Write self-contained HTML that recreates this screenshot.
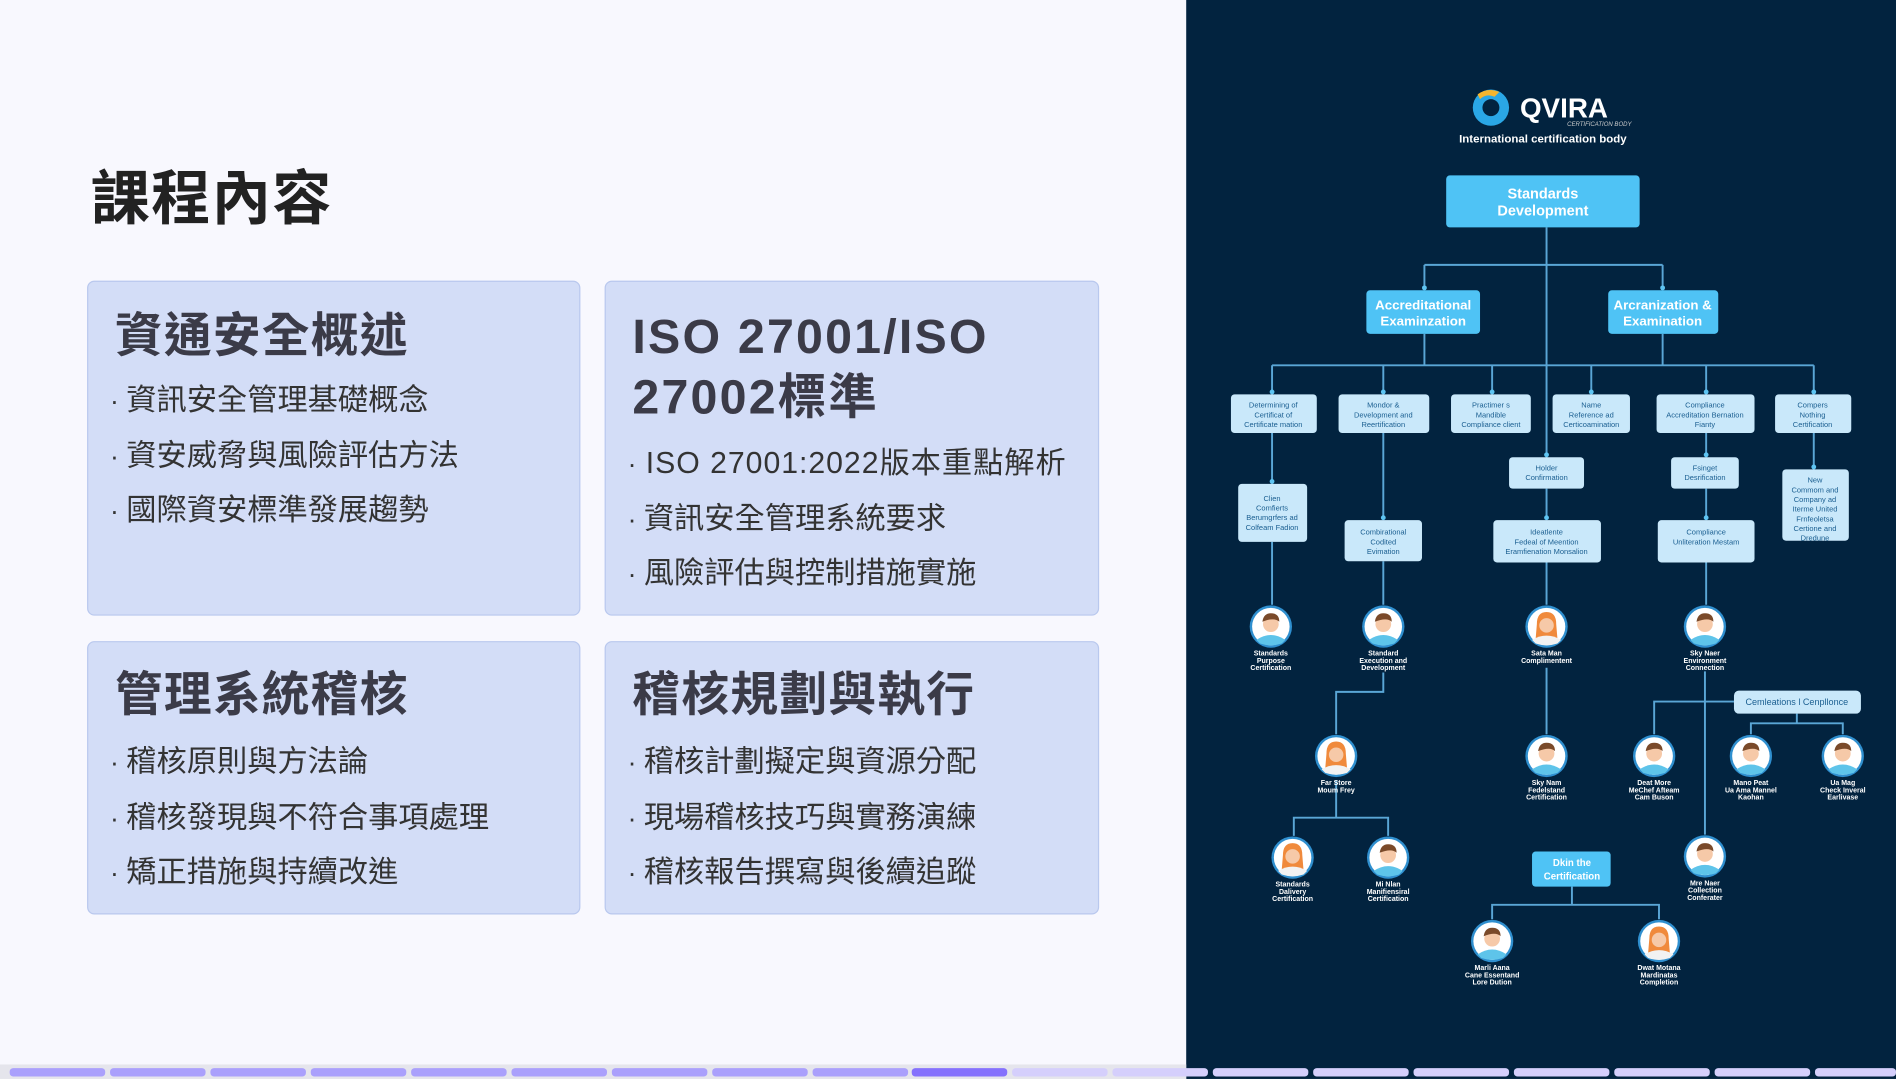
<!DOCTYPE html>
<html><head><meta charset="utf-8"><style>
html,body{margin:0;padding:0;width:1896px;height:1079px;overflow:hidden;background:#f8f8fe}
#w{position:absolute;left:0;top:0;width:1568px;height:892px;transform:scale(1.20918,1.2096);transform-origin:0 0;font-family:"Liberation Sans","Noto Sans CJK TC",sans-serif}
.left{position:absolute;left:0;top:0;width:981px;height:892px;background:#f8f8fe}
.right{position:absolute;left:981px;top:0;width:587px;height:892px;background:#02233f}
h1{position:absolute;left:75px;top:137px;margin:0;font-size:49px;font-weight:700;color:#222;line-height:56px;letter-spacing:1px}
.card{position:absolute;background:#d3ddf7;border:1px solid #b9c8ee;border-radius:6px;box-sizing:border-box}
.card h2{margin:0;position:absolute;left:22px;font-size:39.5px;font-weight:700;color:#3b3b48;line-height:50px;letter-spacing:1px}
.card ul{list-style:none;margin:0;padding:0;position:absolute;left:18px}
.card li{font-size:25px;color:#333;line-height:44.5px;white-space:nowrap}
.card li:before{content:"· ";font-size:22px}
.bar{position:absolute;left:0;top:880px;width:981px;height:12px;background:#e5e5ec}
.seg{position:absolute;top:883px;height:7px;width:79px;border-radius:3px}
</style></head><body><div id="w">
<div class="left"></div><div class="right"></div>
<h1>課程內容</h1>
<div class="card" style="left:72px;top:232px;width:408px;height:277px">
<h2 style="top:20px">資通安全概述</h2>
<ul style="top:76px"><li>資訊安全管理基礎概念</li><li>資安威脅與風險評估方法</li><li>國際資安標準發展趨勢</li></ul></div>
<div class="card" style="left:500px;top:232px;width:409px;height:277px">
<h2 style="top:21px;font-size:40px;line-height:50px;letter-spacing:1.8px">ISO 27001/ISO<br>27002標準</h2>
<ul style="top:128px"><li style="letter-spacing:0.8px">ISO 27001:2022版本重點解析</li><li>資訊安全管理系統要求</li><li>風險評估與控制措施實施</li></ul></div>
<div class="card" style="left:72px;top:530px;width:408px;height:226px">
<h2 style="top:19px">管理系統稽核</h2>
<ul style="top:77px"><li>稽核原則與方法論</li><li>稽核發現與不符合事項處理</li><li>矯正措施與持續改進</li></ul></div>
<div class="card" style="left:500px;top:530px;width:409px;height:226px">
<h2 style="top:19px">稽核規劃與執行</h2>
<ul style="top:77px"><li>稽核計劃擬定與資源分配</li><li>現場稽核技巧與實務演練</li><li>稽核報告撰寫與後續追蹤</li></ul></div>
<div class="bar"></div>
<svg style="position:absolute;left:981px;top:0" width="587" height="880" viewBox="981 0 587 880" font-family="Liberation Sans, sans-serif">
<defs>
<g id="av"><circle r="17.5" fill="#2f8fcf"/><circle r="15.5" fill="#fff"/><path d="M-12,11 Q0,3 12,11 L9,14 Q0,17 -9,14Z" fill="#5ec4ea"/><circle cy="-2" r="6.5" fill="#f6c9a8"/><path d="M-7,-4 Q-6,-11 0,-11 Q7,-11 7,-4 Q3,-8 -7,-4Z" fill="#7a4a2a"/></g>
<g id="avf"><circle r="17.5" fill="#2f8fcf"/><circle r="15.5" fill="#fff"/><path d="M-8,-2 Q-8,-12 0,-12 Q8,-12 8,-2 L9,10 L-9,10Z" fill="#f08a3c"/><path d="M-12,11 Q0,4 12,11 L9,14 Q0,17 -9,14Z" fill="#f2f2f2"/><circle cy="-1" r="6" fill="#f6c9a8"/></g>
</defs>
<circle cx="1233" cy="89" r="15" fill="#2aa7e6"/><circle cx="1233" cy="89" r="7" fill="#02233f"/><path d="M1222,78 Q1230,72 1240,76 L1236,80 Q1229,77 1224,82Z" fill="#f5b52e"/>
<text x="1257" y="97" font-size="23" font-weight="700" fill="#fff">QVIRA</text>
<text x="1296" y="104" font-size="5" fill="#ccc" font-style="italic">CERTIFICATION BODY</text>
<text x="1276" y="118" font-size="9.5" font-weight="700" fill="#fff" text-anchor="middle">International certification body</text>
<g stroke="#5aa6d6" stroke-width="1.6" fill="none">
<path d="M1279,188 V390 M1178,219 H1375 M1178,219 V240 M1375,219 V240 M1178,276 V302 M1375,276 V302 M1052,302 H1500 M1052,302 V326 M1144,302 V326 M1234,302 V326 M1316,302 V326 M1411,302 V326 M1500,302 V326"/>
<path d="M1052,358 V400 M1144,358 V430 M1279,404 V430 M1411,358 V378 M1411,404 V430 M1500,358 V388"/>
<path d="M1052,448 V500 M1144,464 V500 M1279,465 V500 M1411,465 V500"/>
<path d="M1144,556 V572 H1105 V607 M1279,552 V607 M1410,555 V690 M1434,580 H1368 V607 M1486,590 V598 H1448 V607 M1486,598 H1524 V607"/>
<path d="M1105,645 V676 H1070 V691 M1105,676 H1148 V691 M1300,733 V748 H1234 V760 M1300,748 H1372 V760"/>
</g>
<g fill="#5ec4f2">
<circle cx="1178" cy="238" r="2"/><circle cx="1375" cy="238" r="2"/><circle cx="1052" cy="324" r="2"/><circle cx="1144" cy="324" r="2"/><circle cx="1234" cy="324" r="2"/><circle cx="1316" cy="324" r="2"/><circle cx="1411" cy="324" r="2"/><circle cx="1500" cy="324" r="2"/>
<circle cx="1279" cy="376" r="2"/><circle cx="1052" cy="398" r="2"/><circle cx="1144" cy="428" r="2"/><circle cx="1279" cy="428" r="2"/><circle cx="1411" cy="376" r="2"/><circle cx="1411" cy="428" r="2"/><circle cx="1500" cy="386" r="2"/>
</g>
<g fill="#4fc3f5"><rect x="1196" y="145" width="160" height="43" rx="3"/><rect x="1130" y="240" width="94" height="36" rx="3"/><rect x="1330" y="240" width="91" height="36" rx="3"/><rect x="1267" y="704" width="65" height="29" rx="3"/></g>
<g fill="#fff" font-weight="700" text-anchor="middle">
<text x="1276" y="164" font-size="12">Standards</text><text x="1276" y="178" font-size="12">Development</text>
<text x="1177" y="256" font-size="11">Accreditational</text><text x="1177" y="269" font-size="11">Examinzation</text>
<text x="1375" y="256" font-size="11">Arcranization &amp;</text><text x="1375" y="269" font-size="11">Examination</text>
<text x="1300" y="716" font-size="8">Dkin the</text><text x="1300" y="727" font-size="8">Certification</text>
</g>
<g fill="#c9e8fa"><rect x="1018" y="326" width="71" height="32" rx="3"/><rect x="1107" y="326" width="75" height="32" rx="3"/><rect x="1200" y="326" width="66" height="32" rx="3"/><rect x="1284" y="326" width="64" height="32" rx="3"/><rect x="1370" y="326" width="81" height="32" rx="3"/><rect x="1468" y="326" width="63" height="32" rx="3"/>
<rect x="1024" y="400" width="57" height="48" rx="3"/><rect x="1112" y="430" width="64" height="34" rx="3"/><rect x="1248" y="378" width="62" height="26" rx="3"/><rect x="1235" y="430" width="89" height="35" rx="3"/><rect x="1382" y="378" width="56" height="26" rx="3"/><rect x="1371" y="430" width="80" height="35" rx="3"/><rect x="1474" y="388" width="55" height="59" rx="3"/><rect x="1434" y="571" width="105" height="19" rx="4"/></g>
<g fill="#1b5f91" font-size="6.2" text-anchor="middle">
<text x="1053" y="337">Determining of</text><text x="1053" y="345">Certificat of</text><text x="1053" y="353">Certificate mation</text>
<text x="1144" y="337">Mondor &amp;</text><text x="1144" y="345">Development and</text><text x="1144" y="353">Reertification</text>
<text x="1233" y="337">Practimer s</text><text x="1233" y="345">Mandible</text><text x="1233" y="353">Compliance client</text>
<text x="1316" y="337">Name</text><text x="1316" y="345">Reference ad</text><text x="1316" y="353">Certicoamination</text>
<text x="1410" y="337">Compliance</text><text x="1410" y="345">Accreditation Bernation</text><text x="1410" y="353">Fianty</text>
<text x="1499" y="337">Compers</text><text x="1499" y="345">Nothing</text><text x="1499" y="353">Certification</text>
<text x="1052" y="414">Clien</text><text x="1052" y="422">Comfierts</text><text x="1052" y="430">Berumgrfers ad</text><text x="1052" y="438">Colfeam Fadion</text>
<text x="1144" y="442">Combirational</text><text x="1144" y="450">Codited</text><text x="1144" y="458">Evimation</text>
<text x="1279" y="389">Holder</text><text x="1279" y="397">Confirmation</text>
<text x="1279" y="442">Ideatlente</text><text x="1279" y="450">Fedeal of Meention</text><text x="1279" y="458">Eramfienation Monsalion</text>
<text x="1410" y="389">Fsinget</text><text x="1410" y="397">Desrification</text>
<text x="1411" y="442">Compliance</text><text x="1411" y="450">Unliteration Mestam</text>
<text x="1501" y="399">New</text><text x="1501" y="407">Commom and</text><text x="1501" y="415">Company ad</text><text x="1501" y="423">Iterme United</text><text x="1501" y="431">Frnfeoletsa</text><text x="1501" y="439">Certione and</text><text x="1501" y="447">Dredune</text>
<text x="1486" y="583" font-size="7.5">Cemleations l Cenpllonce</text>
</g>
<use href="#av" x="1051" y="518"/><use href="#av" x="1144" y="518"/><use href="#avf" x="1279" y="518"/><use href="#av" x="1410" y="518"/>
<use href="#avf" x="1105" y="625"/><use href="#av" x="1279" y="625"/><use href="#av" x="1368" y="625"/><use href="#av" x="1448" y="625"/><use href="#av" x="1524" y="625"/>
<use href="#avf" x="1069" y="709"/><use href="#av" x="1148" y="709"/><use href="#av" x="1410" y="708"/>
<use href="#av" x="1234" y="778"/><use href="#avf" x="1372" y="778"/>
<g fill="#fff" font-size="5.8" font-weight="700" text-anchor="middle">
<text x="1051" y="542">Standards</text><text x="1051" y="548">Purpose</text><text x="1051" y="554">Certification</text>
<text x="1144" y="542">Standard</text><text x="1144" y="548">Execution and</text><text x="1144" y="554">Development</text>
<text x="1279" y="542">Sata Man</text><text x="1279" y="548">Complimentent</text>
<text x="1410" y="542">Sky Naer</text><text x="1410" y="548">Environment</text><text x="1410" y="554">Connection</text>
<text x="1105" y="649">Far Store</text><text x="1105" y="655">Moum Frey</text>
<text x="1279" y="649">Sky Nam</text><text x="1279" y="655">Fedelstand</text><text x="1279" y="661">Certification</text>
<text x="1368" y="649">Deat More</text><text x="1368" y="655">MeChef Afteam</text><text x="1368" y="661">Cam Buson</text>
<text x="1448" y="649">Mano Peat</text><text x="1448" y="655">Ua Ama Mannel</text><text x="1448" y="661">Kaohan</text>
<text x="1524" y="649">Ua Mag</text><text x="1524" y="655">Check Inveral</text><text x="1524" y="661">Earlivase</text>
<text x="1069" y="733">Standards</text><text x="1069" y="739">Dalivery</text><text x="1069" y="745">Certification</text>
<text x="1148" y="733">Mi Nlan</text><text x="1148" y="739">Manifiensiral</text><text x="1148" y="745">Certification</text>
<text x="1410" y="732">Mre Naer</text><text x="1410" y="738">Collection</text><text x="1410" y="744">Conferater</text>
<text x="1234" y="802">Marli Aana</text><text x="1234" y="808">Cane Essentand</text><text x="1234" y="814">Lore Dution</text>
<text x="1372" y="802">Dwat Motana</text><text x="1372" y="808">Mardinatas</text><text x="1372" y="814">Completion</text>
</g>
</svg>
<div class="seg" style="left:8px;background:#aaa0fc"></div><div class="seg" style="left:91px;background:#aaa0fc"></div><div class="seg" style="left:174px;background:#aaa0fc"></div><div class="seg" style="left:257px;background:#aaa0fc"></div><div class="seg" style="left:340px;background:#aaa0fc"></div><div class="seg" style="left:423px;background:#aaa0fc"></div><div class="seg" style="left:506px;background:#aaa0fc"></div><div class="seg" style="left:589px;background:#aaa0fc"></div><div class="seg" style="left:672px;background:#aaa0fc"></div><div class="seg" style="left:754px;background:#8571fd"></div><div class="seg" style="left:837px;background:#d5cffc"></div><div class="seg" style="left:920px;background:#d5cffc"></div><div class="seg" style="left:1003px;background:#d5cffc"></div><div class="seg" style="left:1086px;background:#d5cffc"></div><div class="seg" style="left:1169px;background:#d5cffc"></div><div class="seg" style="left:1252px;background:#d5cffc"></div><div class="seg" style="left:1335px;background:#d5cffc"></div><div class="seg" style="left:1418px;background:#d5cffc"></div><div class="seg" style="left:1501px;background:#d5cffc;width:67px"></div>
</div></body></html>
